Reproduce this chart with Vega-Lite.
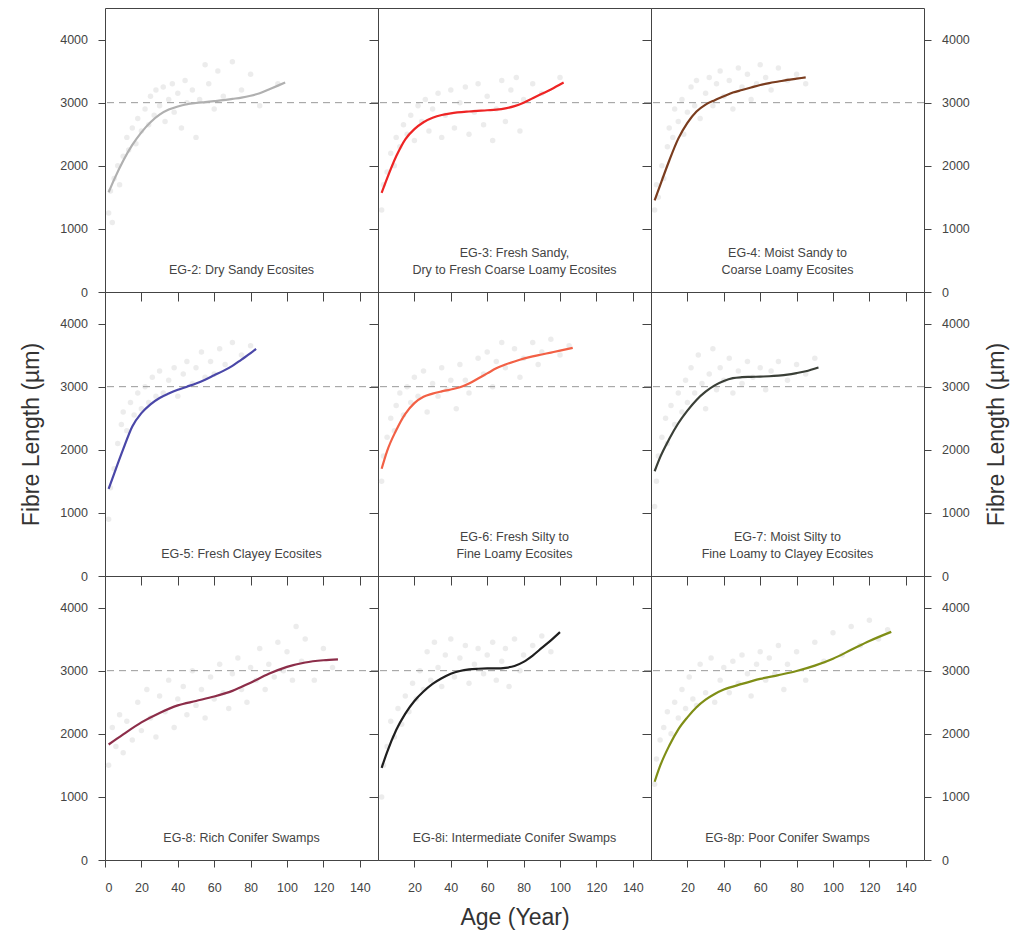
{
"$schema": "https://vega.github.io/schema/vega-lite/v6.json",
"padding": {"left": 20, "top": 7, "right": 5, "bottom": 5},
"background": "white",
"config": {
  "view": {"stroke": "#444", "strokeWidth": 1},
  "font": "Liberation Sans",
  "axis": {"domain": false, "grid": false, "labelFont": "Liberation Sans", "labelFontSize": 12.5, "labelColor": "#444", "tickColor": "#444", "tickSize": 7, "titleFont": "Liberation Sans", "titleFontSize": 23, "titleFontWeight": "normal", "titleColor": "#333"}
},
"datasets": {
"lab": [
{"g":"2","t":"EG-2: Dry Sandy Ecosites"},
{"g":"3","t":"EG-3: Fresh Sandy,\nDry to Fresh Coarse Loamy Ecosites"},
{"g":"4","t":"EG-4: Moist Sandy to\nCoarse Loamy Ecosites"},
{"g":"5","t":"EG-5: Fresh Clayey Ecosites"},
{"g":"6","t":"EG-6: Fresh Silty to\nFine Loamy Ecosites"},
{"g":"7","t":"EG-7: Moist Silty to\nFine Loamy to Clayey Ecosites"},
{"g":"8","t":"EG-8: Rich Conifer Swamps"},
{"g":"8i","t":"EG-8i: Intermediate Conifer Swamps"},
{"g":"8p","t":"EG-8p: Poor Conifer Swamps"}
],
"fit": [
{"g":"2","a":2,"v":1580},{"g":"2","a":5,"v":1780},{"g":"2","a":10,"v":2080},{"g":"2","a":15,"v":2330},{"g":"2","a":20,"v":2530},{"g":"2","a":25,"v":2690},{"g":"2","a":30,"v":2810},{"g":"2","a":35,"v":2890},{"g":"2","a":40,"v":2940},{"g":"2","a":45,"v":2975},{"g":"2","a":50,"v":2995},{"g":"2","a":55,"v":3010},{"g":"2","a":60,"v":3025},{"g":"2","a":65,"v":3040},{"g":"2","a":70,"v":3060},{"g":"2","a":75,"v":3080},{"g":"2","a":80,"v":3110},{"g":"2","a":85,"v":3150},{"g":"2","a":90,"v":3210},{"g":"2","a":95,"v":3270},{"g":"2","a":99,"v":3320},
{"g":"3","a":2,"v":1570},{"g":"3","a":5,"v":1800},{"g":"3","a":10,"v":2150},{"g":"3","a":15,"v":2420},{"g":"3","a":20,"v":2580},{"g":"3","a":25,"v":2690},{"g":"3","a":30,"v":2760},{"g":"3","a":35,"v":2805},{"g":"3","a":40,"v":2830},{"g":"3","a":50,"v":2860},{"g":"3","a":60,"v":2880},{"g":"3","a":65,"v":2890},{"g":"3","a":70,"v":2910},{"g":"3","a":75,"v":2945},{"g":"3","a":80,"v":3000},{"g":"3","a":85,"v":3070},{"g":"3","a":90,"v":3140},{"g":"3","a":95,"v":3210},{"g":"3","a":102,"v":3320},
{"g":"4","a":2,"v":1450},{"g":"4","a":5,"v":1690},{"g":"4","a":10,"v":2080},{"g":"4","a":15,"v":2430},{"g":"4","a":20,"v":2680},{"g":"4","a":25,"v":2860},{"g":"4","a":30,"v":2970},{"g":"4","a":35,"v":3040},{"g":"4","a":40,"v":3100},{"g":"4","a":45,"v":3160},{"g":"4","a":50,"v":3200},{"g":"4","a":55,"v":3240},{"g":"4","a":60,"v":3280},{"g":"4","a":65,"v":3310},{"g":"4","a":70,"v":3335},{"g":"4","a":75,"v":3360},{"g":"4","a":80,"v":3380},{"g":"4","a":85,"v":3400},
{"g":"5","a":2,"v":1380},{"g":"5","a":5,"v":1620},{"g":"5","a":10,"v":2010},{"g":"5","a":15,"v":2370},{"g":"5","a":20,"v":2580},{"g":"5","a":25,"v":2720},{"g":"5","a":30,"v":2820},{"g":"5","a":35,"v":2890},{"g":"5","a":40,"v":2950},{"g":"5","a":45,"v":3000},{"g":"5","a":50,"v":3050},{"g":"5","a":55,"v":3110},{"g":"5","a":60,"v":3180},{"g":"5","a":65,"v":3250},{"g":"5","a":70,"v":3330},{"g":"5","a":75,"v":3430},{"g":"5","a":80,"v":3530},{"g":"5","a":83,"v":3600},
{"g":"6","a":2,"v":1700},{"g":"6","a":5,"v":1980},{"g":"6","a":10,"v":2310},{"g":"6","a":15,"v":2570},{"g":"6","a":20,"v":2740},{"g":"6","a":25,"v":2840},{"g":"6","a":30,"v":2890},{"g":"6","a":35,"v":2925},{"g":"6","a":40,"v":2955},{"g":"6","a":45,"v":2990},{"g":"6","a":50,"v":3050},{"g":"6","a":55,"v":3130},{"g":"6","a":60,"v":3210},{"g":"6","a":65,"v":3290},{"g":"6","a":70,"v":3350},{"g":"6","a":75,"v":3400},{"g":"6","a":80,"v":3445},{"g":"6","a":85,"v":3480},{"g":"6","a":90,"v":3510},{"g":"6","a":95,"v":3540},{"g":"6","a":100,"v":3570},{"g":"6","a":107,"v":3615},
{"g":"7","a":2,"v":1660},{"g":"7","a":5,"v":1880},{"g":"7","a":10,"v":2170},{"g":"7","a":15,"v":2420},{"g":"7","a":20,"v":2620},{"g":"7","a":25,"v":2790},{"g":"7","a":30,"v":2920},{"g":"7","a":35,"v":3020},{"g":"7","a":40,"v":3090},{"g":"7","a":45,"v":3135},{"g":"7","a":50,"v":3150},{"g":"7","a":55,"v":3155},{"g":"7","a":60,"v":3160},{"g":"7","a":65,"v":3165},{"g":"7","a":70,"v":3175},{"g":"7","a":75,"v":3190},{"g":"7","a":80,"v":3215},{"g":"7","a":85,"v":3245},{"g":"7","a":92,"v":3305},
{"g":"8","a":2,"v":1830},{"g":"8","a":10,"v":1990},{"g":"8","a":20,"v":2180},{"g":"8","a":30,"v":2330},{"g":"8","a":40,"v":2450},{"g":"8","a":50,"v":2520},{"g":"8","a":60,"v":2590},{"g":"8","a":70,"v":2680},{"g":"8","a":80,"v":2810},{"g":"8","a":90,"v":2950},{"g":"8","a":100,"v":3060},{"g":"8","a":110,"v":3130},{"g":"8","a":120,"v":3165},{"g":"8","a":128,"v":3180},
{"g":"8i","a":2,"v":1460},{"g":"8i","a":5,"v":1710},{"g":"8i","a":10,"v":2060},{"g":"8i","a":15,"v":2320},{"g":"8i","a":20,"v":2520},{"g":"8i","a":25,"v":2670},{"g":"8i","a":30,"v":2790},{"g":"8i","a":35,"v":2880},{"g":"8i","a":40,"v":2950},{"g":"8i","a":45,"v":2995},{"g":"8i","a":50,"v":3020},{"g":"8i","a":55,"v":3030},{"g":"8i","a":60,"v":3035},{"g":"8i","a":65,"v":3035},{"g":"8i","a":70,"v":3045},{"g":"8i","a":75,"v":3075},{"g":"8i","a":80,"v":3140},{"g":"8i","a":85,"v":3240},{"g":"8i","a":90,"v":3360},{"g":"8i","a":95,"v":3480},{"g":"8i","a":100,"v":3610},
{"g":"8p","a":2,"v":1240},{"g":"8p","a":5,"v":1490},{"g":"8p","a":10,"v":1810},{"g":"8p","a":15,"v":2070},{"g":"8p","a":20,"v":2260},{"g":"8p","a":25,"v":2420},{"g":"8p","a":30,"v":2540},{"g":"8p","a":35,"v":2630},{"g":"8p","a":40,"v":2700},{"g":"8p","a":50,"v":2790},{"g":"8p","a":60,"v":2870},{"g":"8p","a":70,"v":2930},{"g":"8p","a":80,"v":2995},{"g":"8p","a":90,"v":3080},{"g":"8p","a":100,"v":3190},{"g":"8p","a":110,"v":3330},{"g":"8p","a":120,"v":3470},{"g":"8p","a":132,"v":3615}
],
"pts": [
{"g":"2","a":2,"v":1250},{"g":"2","a":3,"v":1600},{"g":"2","a":4,"v":1100},{"g":"2","a":5,"v":1800},{"g":"2","a":7,"v":2000},{"g":"2","a":8,"v":1700},{"g":"2","a":10,"v":2150},{"g":"2","a":12,"v":2450},{"g":"2","a":13,"v":2250},{"g":"2","a":15,"v":2600},{"g":"2","a":17,"v":2350},{"g":"2","a":18,"v":2750},{"g":"2","a":20,"v":2550},{"g":"2","a":22,"v":2900},{"g":"2","a":24,"v":2650},{"g":"2","a":25,"v":3100},{"g":"2","a":27,"v":2800},{"g":"2","a":28,"v":3200},{"g":"2","a":30,"v":2950},{"g":"2","a":32,"v":3250},{"g":"2","a":33,"v":2700},{"g":"2","a":35,"v":3050},{"g":"2","a":37,"v":3300},{"g":"2","a":38,"v":2850},{"g":"2","a":40,"v":3150},{"g":"2","a":42,"v":2600},{"g":"2","a":44,"v":3350},{"g":"2","a":45,"v":3000},{"g":"2","a":48,"v":3200},{"g":"2","a":50,"v":2450},{"g":"2","a":52,"v":3050},{"g":"2","a":55,"v":3600},{"g":"2","a":57,"v":3300},{"g":"2","a":60,"v":2900},{"g":"2","a":62,"v":3500},{"g":"2","a":65,"v":3100},{"g":"2","a":70,"v":3650},{"g":"2","a":75,"v":3200},{"g":"2","a":80,"v":3450},{"g":"2","a":85,"v":2950},{"g":"2","a":95,"v":3300},
{"g":"3","a":2,"v":1300},{"g":"3","a":3,"v":1700},{"g":"3","a":5,"v":1900},{"g":"3","a":7,"v":2200},{"g":"3","a":9,"v":2000},{"g":"3","a":10,"v":2450},{"g":"3","a":12,"v":2300},{"g":"3","a":14,"v":2650},{"g":"3","a":16,"v":2500},{"g":"3","a":18,"v":2800},{"g":"3","a":20,"v":2400},{"g":"3","a":22,"v":2950},{"g":"3","a":24,"v":2700},{"g":"3","a":26,"v":3050},{"g":"3","a":28,"v":2550},{"g":"3","a":30,"v":2900},{"g":"3","a":33,"v":3150},{"g":"3","a":35,"v":2450},{"g":"3","a":37,"v":2800},{"g":"3","a":40,"v":3200},{"g":"3","a":42,"v":2600},{"g":"3","a":45,"v":3000},{"g":"3","a":48,"v":3250},{"g":"3","a":50,"v":2500},{"g":"3","a":53,"v":2850},{"g":"3","a":55,"v":3300},{"g":"3","a":58,"v":2650},{"g":"3","a":60,"v":3100},{"g":"3","a":63,"v":2400},{"g":"3","a":65,"v":2900},{"g":"3","a":68,"v":3350},{"g":"3","a":70,"v":2700},{"g":"3","a":73,"v":3200},{"g":"3","a":76,"v":3400},{"g":"3","a":78,"v":2550},{"g":"3","a":80,"v":3050},{"g":"3","a":85,"v":3300},{"g":"3","a":90,"v":3150},{"g":"3","a":100,"v":3400},
{"g":"4","a":2,"v":1300},{"g":"4","a":3,"v":1700},{"g":"4","a":4,"v":1500},{"g":"4","a":6,"v":2000},{"g":"4","a":7,"v":1800},{"g":"4","a":9,"v":2300},{"g":"4","a":10,"v":2600},{"g":"4","a":12,"v":2450},{"g":"4","a":13,"v":2900},{"g":"4","a":15,"v":2700},{"g":"4","a":17,"v":3050},{"g":"4","a":18,"v":2500},{"g":"4","a":20,"v":2850},{"g":"4","a":22,"v":3250},{"g":"4","a":24,"v":2950},{"g":"4","a":25,"v":3350},{"g":"4","a":27,"v":2750},{"g":"4","a":30,"v":3150},{"g":"4","a":32,"v":3400},{"g":"4","a":34,"v":2950},{"g":"4","a":36,"v":3300},{"g":"4","a":38,"v":3500},{"g":"4","a":40,"v":3100},{"g":"4","a":43,"v":3350},{"g":"4","a":45,"v":2900},{"g":"4","a":48,"v":3550},{"g":"4","a":50,"v":3250},{"g":"4","a":53,"v":3450},{"g":"4","a":55,"v":3050},{"g":"4","a":58,"v":3300},{"g":"4","a":60,"v":3600},{"g":"4","a":63,"v":3400},{"g":"4","a":66,"v":3200},{"g":"4","a":70,"v":3550},{"g":"4","a":75,"v":3350},{"g":"4","a":80,"v":3450},{"g":"4","a":85,"v":3300},
{"g":"5","a":2,"v":900},{"g":"5","a":3,"v":1400},{"g":"5","a":5,"v":1700},{"g":"5","a":7,"v":2100},{"g":"5","a":9,"v":2400},{"g":"5","a":10,"v":2600},{"g":"5","a":12,"v":2300},{"g":"5","a":14,"v":2750},{"g":"5","a":16,"v":2550},{"g":"5","a":18,"v":2900},{"g":"5","a":20,"v":2650},{"g":"5","a":22,"v":3000},{"g":"5","a":24,"v":2750},{"g":"5","a":26,"v":3150},{"g":"5","a":28,"v":2850},{"g":"5","a":30,"v":3250},{"g":"5","a":32,"v":2900},{"g":"5","a":35,"v":3100},{"g":"5","a":38,"v":3300},{"g":"5","a":40,"v":2850},{"g":"5","a":43,"v":3200},{"g":"5","a":45,"v":3400},{"g":"5","a":48,"v":3050},{"g":"5","a":50,"v":3300},{"g":"5","a":53,"v":3550},{"g":"5","a":55,"v":3150},{"g":"5","a":58,"v":3400},{"g":"5","a":60,"v":3200},{"g":"5","a":63,"v":3600},{"g":"5","a":66,"v":3350},{"g":"5","a":70,"v":3700},{"g":"5","a":75,"v":3500},{"g":"5","a":80,"v":3650},
{"g":"6","a":2,"v":1500},{"g":"6","a":3,"v":1900},{"g":"6","a":5,"v":2200},{"g":"6","a":7,"v":2500},{"g":"6","a":9,"v":2300},{"g":"6","a":10,"v":2700},{"g":"6","a":12,"v":2900},{"g":"6","a":14,"v":2550},{"g":"6","a":16,"v":3000},{"g":"6","a":18,"v":2750},{"g":"6","a":20,"v":3150},{"g":"6","a":22,"v":2850},{"g":"6","a":25,"v":3250},{"g":"6","a":27,"v":2600},{"g":"6","a":30,"v":3050},{"g":"6","a":33,"v":2850},{"g":"6","a":35,"v":3300},{"g":"6","a":38,"v":2950},{"g":"6","a":40,"v":3100},{"g":"6","a":43,"v":2650},{"g":"6","a":45,"v":3350},{"g":"6","a":48,"v":3100},{"g":"6","a":50,"v":2900},{"g":"6","a":55,"v":3450},{"g":"6","a":58,"v":3200},{"g":"6","a":60,"v":3550},{"g":"6","a":63,"v":3000},{"g":"6","a":65,"v":3400},{"g":"6","a":68,"v":3700},{"g":"6","a":70,"v":3300},{"g":"6","a":75,"v":3600},{"g":"6","a":78,"v":3150},{"g":"6","a":80,"v":3450},{"g":"6","a":85,"v":3700},{"g":"6","a":88,"v":3350},{"g":"6","a":90,"v":3550},{"g":"6","a":95,"v":3750},{"g":"6","a":100,"v":3500},{"g":"6","a":105,"v":3650},
{"g":"7","a":2,"v":1100},{"g":"7","a":3,"v":1500},{"g":"7","a":4,"v":1900},{"g":"7","a":6,"v":2200},{"g":"7","a":8,"v":2500},{"g":"7","a":9,"v":2100},{"g":"7","a":11,"v":2700},{"g":"7","a":13,"v":2400},{"g":"7","a":15,"v":2900},{"g":"7","a":17,"v":2600},{"g":"7","a":19,"v":3100},{"g":"7","a":20,"v":2750},{"g":"7","a":22,"v":3300},{"g":"7","a":24,"v":2900},{"g":"7","a":26,"v":3500},{"g":"7","a":28,"v":3050},{"g":"7","a":30,"v":2650},{"g":"7","a":32,"v":3200},{"g":"7","a":34,"v":3600},{"g":"7","a":36,"v":2950},{"g":"7","a":38,"v":3300},{"g":"7","a":40,"v":3100},{"g":"7","a":43,"v":3450},{"g":"7","a":45,"v":2900},{"g":"7","a":48,"v":3250},{"g":"7","a":50,"v":3050},{"g":"7","a":53,"v":3400},{"g":"7","a":56,"v":3150},{"g":"7","a":60,"v":3300},{"g":"7","a":63,"v":2950},{"g":"7","a":66,"v":3250},{"g":"7","a":70,"v":3400},{"g":"7","a":75,"v":3100},{"g":"7","a":80,"v":3350},{"g":"7","a":85,"v":3200},{"g":"7","a":90,"v":3450},
{"g":"8","a":2,"v":1500},{"g":"8","a":4,"v":2100},{"g":"8","a":6,"v":1800},{"g":"8","a":8,"v":2300},{"g":"8","a":10,"v":1700},{"g":"8","a":12,"v":2200},{"g":"8","a":15,"v":1900},{"g":"8","a":18,"v":2500},{"g":"8","a":20,"v":2050},{"g":"8","a":23,"v":2700},{"g":"8","a":25,"v":2250},{"g":"8","a":28,"v":1950},{"g":"8","a":30,"v":2600},{"g":"8","a":33,"v":2350},{"g":"8","a":35,"v":2850},{"g":"8","a":38,"v":2100},{"g":"8","a":40,"v":2550},{"g":"8","a":43,"v":2750},{"g":"8","a":45,"v":2300},{"g":"8","a":48,"v":3000},{"g":"8","a":50,"v":2450},{"g":"8","a":53,"v":2700},{"g":"8","a":55,"v":2250},{"g":"8","a":58,"v":2900},{"g":"8","a":60,"v":2550},{"g":"8","a":63,"v":3100},{"g":"8","a":65,"v":2650},{"g":"8","a":68,"v":2400},{"g":"8","a":70,"v":2950},{"g":"8","a":73,"v":3200},{"g":"8","a":75,"v":2700},{"g":"8","a":78,"v":2500},{"g":"8","a":80,"v":3050},{"g":"8","a":83,"v":2850},{"g":"8","a":85,"v":3350},{"g":"8","a":88,"v":2700},{"g":"8","a":90,"v":3100},{"g":"8","a":93,"v":2900},{"g":"8","a":95,"v":3450},{"g":"8","a":98,"v":3000},{"g":"8","a":100,"v":3300},{"g":"8","a":103,"v":2850},{"g":"8","a":105,"v":3700},{"g":"8","a":108,"v":3150},{"g":"8","a":110,"v":3500},{"g":"8","a":115,"v":2850},{"g":"8","a":120,"v":3350},{"g":"8","a":125,"v":3050},
{"g":"8i","a":2,"v":1000},{"g":"8i","a":3,"v":1500},{"g":"8i","a":5,"v":1800},{"g":"8i","a":7,"v":2200},{"g":"8i","a":9,"v":1950},{"g":"8i","a":11,"v":2400},{"g":"8i","a":13,"v":2150},{"g":"8i","a":15,"v":2600},{"g":"8i","a":17,"v":2350},{"g":"8i","a":19,"v":2800},{"g":"8i","a":21,"v":2550},{"g":"8i","a":23,"v":3000},{"g":"8i","a":25,"v":2700},{"g":"8i","a":27,"v":3300},{"g":"8i","a":29,"v":2850},{"g":"8i","a":31,"v":3450},{"g":"8i","a":33,"v":3050},{"g":"8i","a":35,"v":2750},{"g":"8i","a":37,"v":3250},{"g":"8i","a":40,"v":3500},{"g":"8i","a":42,"v":2900},{"g":"8i","a":45,"v":3200},{"g":"8i","a":48,"v":3400},{"g":"8i","a":50,"v":2800},{"g":"8i","a":53,"v":3100},{"g":"8i","a":55,"v":3350},{"g":"8i","a":58,"v":2950},{"g":"8i","a":60,"v":3250},{"g":"8i","a":63,"v":3450},{"g":"8i","a":65,"v":2850},{"g":"8i","a":68,"v":3150},{"g":"8i","a":70,"v":3350},{"g":"8i","a":72,"v":2750},{"g":"8i","a":75,"v":3500},{"g":"8i","a":78,"v":3000},{"g":"8i","a":80,"v":3250},{"g":"8i","a":85,"v":3400},{"g":"8i","a":90,"v":3550},{"g":"8i","a":95,"v":3300},
{"g":"8p","a":2,"v":1200},{"g":"8p","a":3,"v":1600},{"g":"8p","a":5,"v":1900},{"g":"8p","a":7,"v":2100},{"g":"8p","a":9,"v":2350},{"g":"8p","a":11,"v":2000},{"g":"8p","a":13,"v":2500},{"g":"8p","a":15,"v":2250},{"g":"8p","a":17,"v":2700},{"g":"8p","a":19,"v":2400},{"g":"8p","a":21,"v":2900},{"g":"8p","a":23,"v":2550},{"g":"8p","a":25,"v":2450},{"g":"8p","a":27,"v":3100},{"g":"8p","a":30,"v":2650},{"g":"8p","a":33,"v":3200},{"g":"8p","a":35,"v":2500},{"g":"8p","a":38,"v":2850},{"g":"8p","a":40,"v":3050},{"g":"8p","a":43,"v":2650},{"g":"8p","a":45,"v":3150},{"g":"8p","a":48,"v":2800},{"g":"8p","a":50,"v":3250},{"g":"8p","a":53,"v":2950},{"g":"8p","a":55,"v":2600},{"g":"8p","a":58,"v":3100},{"g":"8p","a":60,"v":3300},{"g":"8p","a":63,"v":2850},{"g":"8p","a":65,"v":3200},{"g":"8p","a":68,"v":2950},{"g":"8p","a":70,"v":3400},{"g":"8p","a":73,"v":2700},{"g":"8p","a":75,"v":3100},{"g":"8p","a":80,"v":3300},{"g":"8p","a":85,"v":2850},{"g":"8p","a":90,"v":3450},{"g":"8p","a":95,"v":3150},{"g":"8p","a":100,"v":3600},{"g":"8p","a":105,"v":3250},{"g":"8p","a":110,"v":3700},{"g":"8p","a":115,"v":3400},{"g":"8p","a":120,"v":3800},{"g":"8p","a":125,"v":3500},{"g":"8p","a":130,"v":3650}
]
},
"columns": 3,
"spacing": 0,
"bounds": "flush",
"concat": [
{"width": 273, "height": 284, "resolve": {"axis": {"x": "independent", "y": "independent"}}, "layer": [
 {"data": {"name": "pts"}, "transform": [{"filter": "datum.g === '2'"}], "mark": {"type": "circle", "color": "#c8c8c8", "opacity": 0.35, "size": 30},
  "encoding": {"x": {"field": "a", "type": "quantitative", "scale": {"domain": [0, 150], "nice": false}, "axis": null},
   "y": {"field": "v", "type": "quantitative", "scale": {"domain": [0, 4500], "nice": false}, "axis": {"orient": "left", "values": [0, 1000, 2000, 3000, 4000], "format": "d", "title": null, "labelPadding": 10.5}}}},
 {"data": {"values": [{}]}, "mark": {"type": "rule", "color": "#9a9a9a", "strokeDash": [7, 5], "strokeWidth": 1}, "encoding": {"y": {"datum": 3000, "type": "quantitative", "scale": {"domain": [0, 4500], "nice": false}, "axis": null}}},
 {"data": {"name": "fit"}, "transform": [{"filter": "datum.g === '2'"}], "mark": {"type": "line", "color": "#b0b0b0", "strokeWidth": 2.2, "interpolate": "monotone"},
  "encoding": {"x": {"field": "a", "type": "quantitative", "scale": {"domain": [0, 150], "nice": false}, "axis": null},
   "y": {"field": "v", "type": "quantitative", "scale": {"domain": [0, 4500], "nice": false}, "axis": {"orient": "right", "values": [1000, 2000, 3000, 4000], "tickSize": -9, "labels": false, "title": null}}}},
 {"data": {"name": "lab"}, "transform": [{"filter": "datum.g === '2'"}], "mark": {"type": "text", "fontSize": 12.5, "color": "#444", "baseline": "bottom", "lineBreak": "\n", "lineHeight": 16.5},
  "encoding": {"text": {"field": "t"}, "x": {"datum": 75, "type": "quantitative", "scale": {"domain": [0, 150], "nice": false}, "axis": null}, "y": {"datum": 240, "type": "quantitative", "scale": {"domain": [0, 4500], "nice": false}, "axis": null}}}
]},
{"width": 273, "height": 284, "resolve": {"axis": {"x": "independent", "y": "independent"}}, "layer": [
 {"data": {"name": "pts"}, "transform": [{"filter": "datum.g === '3'"}], "mark": {"type": "circle", "color": "#c8c8c8", "opacity": 0.35, "size": 30},
  "encoding": {"x": {"field": "a", "type": "quantitative", "scale": {"domain": [0, 150], "nice": false}, "axis": null},
   "y": {"field": "v", "type": "quantitative", "scale": {"domain": [0, 4500], "nice": false}, "axis": null}}},
 {"data": {"values": [{}]}, "mark": {"type": "rule", "color": "#9a9a9a", "strokeDash": [7, 5], "strokeWidth": 1}, "encoding": {"y": {"datum": 3000, "type": "quantitative", "scale": {"domain": [0, 4500], "nice": false}, "axis": null}}},
 {"data": {"name": "fit"}, "transform": [{"filter": "datum.g === '3'"}], "mark": {"type": "line", "color": "#ee2424", "strokeWidth": 2.2, "interpolate": "monotone"},
  "encoding": {"x": {"field": "a", "type": "quantitative", "scale": {"domain": [0, 150], "nice": false}, "axis": null},
   "y": {"field": "v", "type": "quantitative", "scale": {"domain": [0, 4500], "nice": false}, "axis": {"orient": "right", "values": [1000, 2000, 3000, 4000], "tickSize": -9, "labels": false, "title": null}}}},
 {"data": {"name": "lab"}, "transform": [{"filter": "datum.g === '3'"}], "mark": {"type": "text", "fontSize": 12.5, "color": "#444", "baseline": "bottom", "lineBreak": "\n", "lineHeight": 16.5, "dy": -16.5},
  "encoding": {"text": {"field": "t"}, "x": {"datum": 75, "type": "quantitative", "scale": {"domain": [0, 150], "nice": false}, "axis": null}, "y": {"datum": 240, "type": "quantitative", "scale": {"domain": [0, 4500], "nice": false}, "axis": null}}}
]},
{"width": 273, "height": 284, "resolve": {"axis": {"x": "independent", "y": "independent"}}, "layer": [
 {"data": {"name": "pts"}, "transform": [{"filter": "datum.g === '4'"}], "mark": {"type": "circle", "color": "#c8c8c8", "opacity": 0.35, "size": 30},
  "encoding": {"x": {"field": "a", "type": "quantitative", "scale": {"domain": [0, 150], "nice": false}, "axis": null},
   "y": {"field": "v", "type": "quantitative", "scale": {"domain": [0, 4500], "nice": false}, "axis": null}}},
 {"data": {"values": [{}]}, "mark": {"type": "rule", "color": "#9a9a9a", "strokeDash": [7, 5], "strokeWidth": 1}, "encoding": {"y": {"datum": 3000, "type": "quantitative", "scale": {"domain": [0, 4500], "nice": false}, "axis": null}}},
 {"data": {"name": "fit"}, "transform": [{"filter": "datum.g === '4'"}], "mark": {"type": "line", "color": "#7a3c1e", "strokeWidth": 2.2, "interpolate": "monotone"},
  "encoding": {"x": {"field": "a", "type": "quantitative", "scale": {"domain": [0, 150], "nice": false}, "axis": null},
   "y": {"field": "v", "type": "quantitative", "scale": {"domain": [0, 4500], "nice": false}, "axis": {"orient": "right", "values": [0, 1000, 2000, 3000, 4000], "format": "d", "title": null, "labelPadding": 10.5}}}},
 {"data": {"name": "lab"}, "transform": [{"filter": "datum.g === '4'"}], "mark": {"type": "text", "fontSize": 12.5, "color": "#444", "baseline": "bottom", "lineBreak": "\n", "lineHeight": 16.5, "dy": -16.5},
  "encoding": {"text": {"field": "t"}, "x": {"datum": 75, "type": "quantitative", "scale": {"domain": [0, 150], "nice": false}, "axis": null}, "y": {"datum": 240, "type": "quantitative", "scale": {"domain": [0, 4500], "nice": false}, "axis": null}}}
]},
{"width": 273, "height": 284, "resolve": {"axis": {"x": "independent", "y": "independent"}}, "layer": [
 {"data": {"name": "pts"}, "transform": [{"filter": "datum.g === '5'"}], "mark": {"type": "circle", "color": "#c8c8c8", "opacity": 0.35, "size": 30},
  "encoding": {"x": {"field": "a", "type": "quantitative", "scale": {"domain": [0, 150], "nice": false}, "axis": null},
   "y": {"field": "v", "type": "quantitative", "scale": {"domain": [0, 4500], "nice": false}, "axis": {"orient": "left", "values": [0, 1000, 2000, 3000, 4000], "format": "d", "title": "Fibre Length (µm)", "labelPadding": 10.5, "titlePadding": 16}}}},
 {"data": {"values": [{}]}, "mark": {"type": "rule", "color": "#9a9a9a", "strokeDash": [7, 5], "strokeWidth": 1}, "encoding": {"y": {"datum": 3000, "type": "quantitative", "scale": {"domain": [0, 4500], "nice": false}, "axis": null}}},
 {"data": {"name": "fit"}, "transform": [{"filter": "datum.g === '5'"}], "mark": {"type": "line", "color": "#4a47a8", "strokeWidth": 2.2, "interpolate": "monotone"},
  "encoding": {"x": {"field": "a", "type": "quantitative", "scale": {"domain": [0, 150], "nice": false}, "axis": {"orient": "top", "values": [20, 40, 60, 80, 100, 120, 140], "tickSize": -9, "labels": false, "title": null}},
   "y": {"field": "v", "type": "quantitative", "scale": {"domain": [0, 4500], "nice": false}, "axis": {"orient": "right", "values": [1000, 2000, 3000, 4000], "tickSize": -9, "labels": false, "title": null}}}},
 {"data": {"name": "lab"}, "transform": [{"filter": "datum.g === '5'"}], "mark": {"type": "text", "fontSize": 12.5, "color": "#444", "baseline": "bottom", "lineBreak": "\n", "lineHeight": 16.5},
  "encoding": {"text": {"field": "t"}, "x": {"datum": 75, "type": "quantitative", "scale": {"domain": [0, 150], "nice": false}, "axis": null}, "y": {"datum": 240, "type": "quantitative", "scale": {"domain": [0, 4500], "nice": false}, "axis": null}}}
]},
{"width": 273, "height": 284, "resolve": {"axis": {"x": "independent", "y": "independent"}}, "layer": [
 {"data": {"name": "pts"}, "transform": [{"filter": "datum.g === '6'"}], "mark": {"type": "circle", "color": "#c8c8c8", "opacity": 0.35, "size": 30},
  "encoding": {"x": {"field": "a", "type": "quantitative", "scale": {"domain": [0, 150], "nice": false}, "axis": null},
   "y": {"field": "v", "type": "quantitative", "scale": {"domain": [0, 4500], "nice": false}, "axis": null}}},
 {"data": {"values": [{}]}, "mark": {"type": "rule", "color": "#9a9a9a", "strokeDash": [7, 5], "strokeWidth": 1}, "encoding": {"y": {"datum": 3000, "type": "quantitative", "scale": {"domain": [0, 4500], "nice": false}, "axis": null}}},
 {"data": {"name": "fit"}, "transform": [{"filter": "datum.g === '6'"}], "mark": {"type": "line", "color": "#f26045", "strokeWidth": 2.2, "interpolate": "monotone"},
  "encoding": {"x": {"field": "a", "type": "quantitative", "scale": {"domain": [0, 150], "nice": false}, "axis": {"orient": "top", "values": [20, 40, 60, 80, 100, 120, 140], "tickSize": -9, "labels": false, "title": null}},
   "y": {"field": "v", "type": "quantitative", "scale": {"domain": [0, 4500], "nice": false}, "axis": {"orient": "right", "values": [1000, 2000, 3000, 4000], "tickSize": -9, "labels": false, "title": null}}}},
 {"data": {"name": "lab"}, "transform": [{"filter": "datum.g === '6'"}], "mark": {"type": "text", "fontSize": 12.5, "color": "#444", "baseline": "bottom", "lineBreak": "\n", "lineHeight": 16.5, "dy": -16.5},
  "encoding": {"text": {"field": "t"}, "x": {"datum": 75, "type": "quantitative", "scale": {"domain": [0, 150], "nice": false}, "axis": null}, "y": {"datum": 240, "type": "quantitative", "scale": {"domain": [0, 4500], "nice": false}, "axis": null}}}
]},
{"width": 273, "height": 284, "resolve": {"axis": {"x": "independent", "y": "independent"}}, "layer": [
 {"data": {"name": "pts"}, "transform": [{"filter": "datum.g === '7'"}], "mark": {"type": "circle", "color": "#c8c8c8", "opacity": 0.35, "size": 30},
  "encoding": {"x": {"field": "a", "type": "quantitative", "scale": {"domain": [0, 150], "nice": false}, "axis": null},
   "y": {"field": "v", "type": "quantitative", "scale": {"domain": [0, 4500], "nice": false}, "axis": null}}},
 {"data": {"values": [{}]}, "mark": {"type": "rule", "color": "#9a9a9a", "strokeDash": [7, 5], "strokeWidth": 1}, "encoding": {"y": {"datum": 3000, "type": "quantitative", "scale": {"domain": [0, 4500], "nice": false}, "axis": null}}},
 {"data": {"name": "fit"}, "transform": [{"filter": "datum.g === '7'"}], "mark": {"type": "line", "color": "#3a3f37", "strokeWidth": 2.2, "interpolate": "monotone"},
  "encoding": {"x": {"field": "a", "type": "quantitative", "scale": {"domain": [0, 150], "nice": false}, "axis": {"orient": "top", "values": [20, 40, 60, 80, 100, 120, 140], "tickSize": -9, "labels": false, "title": null}},
   "y": {"field": "v", "type": "quantitative", "scale": {"domain": [0, 4500], "nice": false}, "axis": {"orient": "right", "values": [0, 1000, 2000, 3000, 4000], "format": "d", "title": "Fibre Length (µm)", "titleAngle": 270, "titleBaseline": "top", "labelPadding": 10.5, "titlePadding": 16}}}},
 {"data": {"name": "lab"}, "transform": [{"filter": "datum.g === '7'"}], "mark": {"type": "text", "fontSize": 12.5, "color": "#444", "baseline": "bottom", "lineBreak": "\n", "lineHeight": 16.5, "dy": -16.5},
  "encoding": {"text": {"field": "t"}, "x": {"datum": 75, "type": "quantitative", "scale": {"domain": [0, 150], "nice": false}, "axis": null}, "y": {"datum": 240, "type": "quantitative", "scale": {"domain": [0, 4500], "nice": false}, "axis": null}}}
]},
{"width": 273, "height": 284, "resolve": {"axis": {"x": "independent", "y": "independent"}}, "layer": [
 {"data": {"name": "pts"}, "transform": [{"filter": "datum.g === '8'"}], "mark": {"type": "circle", "color": "#c8c8c8", "opacity": 0.35, "size": 30},
  "encoding": {"x": {"field": "a", "type": "quantitative", "scale": {"domain": [0, 150], "nice": false}, "axis": {"orient": "bottom", "values": [0, 20, 40, 60, 80, 100, 120, 140], "format": "d", "title": null, "labelPadding": 14}},
   "y": {"field": "v", "type": "quantitative", "scale": {"domain": [0, 4500], "nice": false}, "axis": {"orient": "left", "values": [0, 1000, 2000, 3000, 4000], "format": "d", "title": null, "labelPadding": 10.5}}}},
 {"data": {"values": [{}]}, "mark": {"type": "rule", "color": "#9a9a9a", "strokeDash": [7, 5], "strokeWidth": 1}, "encoding": {"y": {"datum": 3000, "type": "quantitative", "scale": {"domain": [0, 4500], "nice": false}, "axis": null}}},
 {"data": {"name": "fit"}, "transform": [{"filter": "datum.g === '8'"}], "mark": {"type": "line", "color": "#8c2d49", "strokeWidth": 2.2, "interpolate": "monotone"},
  "encoding": {"x": {"field": "a", "type": "quantitative", "scale": {"domain": [0, 150], "nice": false}, "axis": {"orient": "top", "values": [20, 40, 60, 80, 100, 120, 140], "tickSize": -9, "labels": false, "title": null}},
   "y": {"field": "v", "type": "quantitative", "scale": {"domain": [0, 4500], "nice": false}, "axis": {"orient": "right", "values": [1000, 2000, 3000, 4000], "tickSize": -9, "labels": false, "title": null}}}},
 {"data": {"name": "lab"}, "transform": [{"filter": "datum.g === '8'"}], "mark": {"type": "text", "fontSize": 12.5, "color": "#444", "baseline": "bottom", "lineBreak": "\n", "lineHeight": 16.5},
  "encoding": {"text": {"field": "t"}, "x": {"datum": 75, "type": "quantitative", "scale": {"domain": [0, 150], "nice": false}, "axis": null}, "y": {"datum": 240, "type": "quantitative", "scale": {"domain": [0, 4500], "nice": false}, "axis": null}}}
]},
{"width": 273, "height": 284, "resolve": {"axis": {"x": "independent", "y": "independent"}}, "layer": [
 {"data": {"name": "pts"}, "transform": [{"filter": "datum.g === '8i'"}], "mark": {"type": "circle", "color": "#c8c8c8", "opacity": 0.35, "size": 30},
  "encoding": {"x": {"field": "a", "type": "quantitative", "scale": {"domain": [0, 150], "nice": false}, "axis": {"orient": "bottom", "values": [20, 40, 60, 80, 100, 120, 140], "format": "d", "title": "Age (Year)", "labelPadding": 14, "titlePadding": 13}},
   "y": {"field": "v", "type": "quantitative", "scale": {"domain": [0, 4500], "nice": false}, "axis": null}}},
 {"data": {"values": [{}]}, "mark": {"type": "rule", "color": "#9a9a9a", "strokeDash": [7, 5], "strokeWidth": 1}, "encoding": {"y": {"datum": 3000, "type": "quantitative", "scale": {"domain": [0, 4500], "nice": false}, "axis": null}}},
 {"data": {"name": "fit"}, "transform": [{"filter": "datum.g === '8i'"}], "mark": {"type": "line", "color": "#1f1f1f", "strokeWidth": 2.2, "interpolate": "monotone"},
  "encoding": {"x": {"field": "a", "type": "quantitative", "scale": {"domain": [0, 150], "nice": false}, "axis": {"orient": "top", "values": [20, 40, 60, 80, 100, 120, 140], "tickSize": -9, "labels": false, "title": null}},
   "y": {"field": "v", "type": "quantitative", "scale": {"domain": [0, 4500], "nice": false}, "axis": {"orient": "right", "values": [1000, 2000, 3000, 4000], "tickSize": -9, "labels": false, "title": null}}}},
 {"data": {"name": "lab"}, "transform": [{"filter": "datum.g === '8i'"}], "mark": {"type": "text", "fontSize": 12.5, "color": "#444", "baseline": "bottom", "lineBreak": "\n", "lineHeight": 16.5},
  "encoding": {"text": {"field": "t"}, "x": {"datum": 75, "type": "quantitative", "scale": {"domain": [0, 150], "nice": false}, "axis": null}, "y": {"datum": 240, "type": "quantitative", "scale": {"domain": [0, 4500], "nice": false}, "axis": null}}}
]},
{"width": 273, "height": 284, "resolve": {"axis": {"x": "independent", "y": "independent"}}, "layer": [
 {"data": {"name": "pts"}, "transform": [{"filter": "datum.g === '8p'"}], "mark": {"type": "circle", "color": "#c8c8c8", "opacity": 0.35, "size": 30},
  "encoding": {"x": {"field": "a", "type": "quantitative", "scale": {"domain": [0, 150], "nice": false}, "axis": {"orient": "bottom", "values": [20, 40, 60, 80, 100, 120, 140], "format": "d", "title": null, "labelPadding": 14}},
   "y": {"field": "v", "type": "quantitative", "scale": {"domain": [0, 4500], "nice": false}, "axis": null}}},
 {"data": {"values": [{}]}, "mark": {"type": "rule", "color": "#9a9a9a", "strokeDash": [7, 5], "strokeWidth": 1}, "encoding": {"y": {"datum": 3000, "type": "quantitative", "scale": {"domain": [0, 4500], "nice": false}, "axis": null}}},
 {"data": {"name": "fit"}, "transform": [{"filter": "datum.g === '8p'"}], "mark": {"type": "line", "color": "#7f8e16", "strokeWidth": 2.2, "interpolate": "monotone"},
  "encoding": {"x": {"field": "a", "type": "quantitative", "scale": {"domain": [0, 150], "nice": false}, "axis": {"orient": "top", "values": [20, 40, 60, 80, 100, 120, 140], "tickSize": -9, "labels": false, "title": null}},
   "y": {"field": "v", "type": "quantitative", "scale": {"domain": [0, 4500], "nice": false}, "axis": {"orient": "right", "values": [0, 1000, 2000, 3000, 4000], "format": "d", "title": null, "labelPadding": 10.5}}}},
 {"data": {"name": "lab"}, "transform": [{"filter": "datum.g === '8p'"}], "mark": {"type": "text", "fontSize": 12.5, "color": "#444", "baseline": "bottom", "lineBreak": "\n", "lineHeight": 16.5},
  "encoding": {"text": {"field": "t"}, "x": {"datum": 75, "type": "quantitative", "scale": {"domain": [0, 150], "nice": false}, "axis": null}, "y": {"datum": 240, "type": "quantitative", "scale": {"domain": [0, 4500], "nice": false}, "axis": null}}}
]}
]
}
